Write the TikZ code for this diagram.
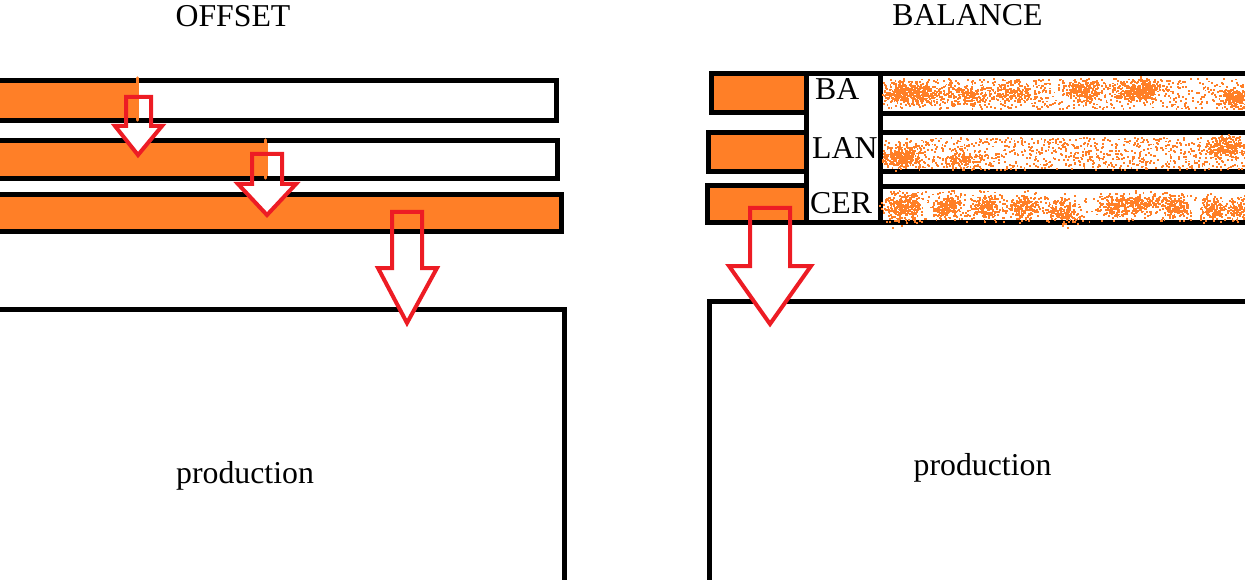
\documentclass[tikz,border=0pt]{standalone}
\usepackage{fontspec}
\setmainfont{Liberation Serif}
\definecolor{paintorange}{HTML}{FF7F27}
\definecolor{paintred}{HTML}{ED1C24}
\newcommand\sprayblob[5]{%
  \foreach \k in {1,...,#5}{%
    \pgfmathsetmacro\px{#1+(rnd+rnd+rnd-1.5)*#3}%
    \pgfmathsetmacro\py{#2+(rnd+rnd+rnd-1.5)*#4}%
    \fill[paintorange] (\px,\py) rectangle ++(1.9,1.9);}}
\newcommand\sprayflat[5]{%
  \foreach \k in {1,...,#5}{%
    \pgfmathsetmacro\px{#1+rnd*#3}%
    \pgfmathsetmacro\py{#2+rnd*#4}%
    \fill[paintorange] (\px,\py) rectangle ++(1.9,1.9);}}
\newcommand\blockarrow[9]{%
  % #1 shaft left, #2 shaft right, #3 top, #4 head y, #5 head left, #6 head right, #7 tip x, #8 tip y, #9 name
  \fill[white] (#5,#4) -- (#7,#8) -- (#6,#4) -- cycle;
  \draw[redarrow] (#1,#3) -- (#2,#3) -- (#2,#4) -- (#6,#4) -- (#7,#8) -- (#5,#4) -- (#1,#4) -- cycle;
  \coordinate (#9) at (#7,#8);}
\begin{document}
\begin{tikzpicture}[x=1pt,y=-1pt,
  frame/.style={draw=black,line width=5pt,line join=miter},
  redarrow/.style={draw=paintred,line width=4pt,line join=miter},
  paintline/.style={draw=paintorange,line width=3.5pt,line cap=round},
  lbl/.style={font=\fontsize{31.8}{36}\selectfont,inner sep=0pt}]
\useasboundingbox (0,0) rectangle (1245,580);
\clip (0,0) rectangle (1245,580);
\pgfmathsetseed{7}

% ---------------- OFFSET ----------------
\node[lbl,anchor=base] (offset) at (233,27) {OFFSET};

\fill[paintorange] (-10,81) rectangle (139,121);
\draw[frame] (-10,81) rectangle (556,121);
\fill[paintorange] (-10,140.5) rectangle (268,179);
\draw[frame] (-10,140.5) rectangle (557,179);
\draw[frame,fill=paintorange] (-10,194.5) rectangle (561,232);
\draw[paintline] (137.5,78) -- (137.5,120);
\draw[paintline] (265.5,140) -- (265.5,178);

\draw[frame] (-10,309) rectangle (564,620);
\node[lbl,anchor=base] (prodL) at (245,483) {production};

\blockarrow{126}{151}{97}{126}{115}{162}{138}{155}{a1}
\blockarrow{252}{282}{154}{184}{238}{296}{267}{215}{a2}
\blockarrow{392}{422}{212}{268}{378}{437}{407}{323}{a3}

% ---------------- BALANCE ----------------
\node[lbl,anchor=base] (balance) at (967.5,26) {BALANCE};

\draw[frame,fill=white] (806.5,74) rectangle (880,223);
\draw[frame,fill=paintorange] (711.5,74) rectangle (806.5,113);
\draw[frame,fill=paintorange] (708.5,132.5) rectangle (806.5,171.5);
\draw[frame,fill=paintorange] (707.5,186) rectangle (806.5,223);
\draw[frame] (880,74) rectangle (1260,113.5);
\draw[frame] (880,132.5) rectangle (1260,171.5);
\draw[frame] (880,186.5) rectangle (1260,223);

\node[lbl,anchor=base west] (ba) at (815,100) {BA};
\node[lbl,anchor=base west] (lan) at (812,159) {LAN};
\node[lbl,anchor=base west] (cer) at (810,214) {CER};

% spray paint
\begin{scope}
\clip (882,76) rectangle (1245,111);
\sprayflat{883}{78}{362}{30}{700}
\sprayblob{912}{92}{28}{10}{380}
\sprayblob{965}{94}{22}{10}{160}
\sprayblob{1015}{92}{28}{10}{120}
\sprayblob{1082}{90}{18}{10}{170}
\sprayblob{1138}{90}{24}{10}{320}
\sprayblob{1236}{97}{16}{10}{220}
\end{scope}
\begin{scope}
\clip (879,135) rectangle (1245,176);
\sprayflat{883}{137}{362}{32}{850}
\sprayblob{902}{156}{20}{10}{260}
\sprayblob{962}{160}{18}{8}{110}
\sprayblob{1226}{146}{22}{10}{200}
\end{scope}
\begin{scope}
\clip (879,189) rectangle (1245,232);
\sprayflat{883}{190}{362}{32}{180}
\sprayblob{903}{207}{18}{14}{320}
\sprayblob{947}{205}{16}{12}{200}
\sprayblob{985}{206}{15}{12}{190}
\sprayblob{1023}{207}{17}{11}{190}
\sprayblob{1062}{212}{16}{12}{200}
\sprayblob{1115}{205}{18}{11}{180}
\sprayblob{1140}{203}{18}{11}{180}
\sprayblob{1173}{205}{16}{11}{190}
\sprayblob{1213}{208}{14}{11}{160}
\sprayblob{1240}{207}{10}{11}{120}
\end{scope}

\draw[frame] (709,301) rectangle (1260,620);
\node[lbl,anchor=base] (prodR) at (982.5,475) {production};

\blockarrow{750}{790}{208}{266}{729}{811}{770}{324}{a4}
\end{tikzpicture}
\end{document}
